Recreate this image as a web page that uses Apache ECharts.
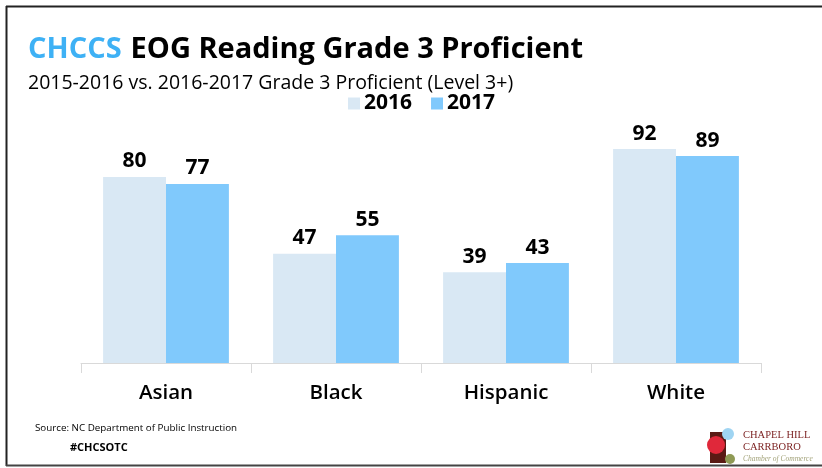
<!DOCTYPE html>
<html><head><meta charset="utf-8">
<script src="https://cdn.jsdelivr.net/npm/echarts@6/dist/echarts.min.js"></script>
<style>html,body{margin:0;padding:0;background:#fff}#c{width:822px;height:468px}</style>
</head><body><div id="c"></div>
<script>
const categories = ['Asian', 'Black', 'Hispanic', 'White'];
const values2016 = [80, 47, 39, 92];
const values2017 = [77, 55, 43, 89];
const seriesNames = ['2016', '2017'];

const FONT = '"Open Sans", "Noto Sans", sans-serif';
const chart = echarts.init(document.getElementById('c'), null, {renderer: 'canvas'});
const labelStyle = {show: true, position: 'top', distance: 5, color: '#000', fontSize: 21, fontWeight: 'bold', fontFamily: FONT};
chart.setOption({
  animation: false,
  backgroundColor: '#fff',
  title: [{
    left: 23, top: 30,
    text: '{a|CHCCS}{s| }{b|EOG Reading Grade 3 Proficient}',
    textStyle: {rich: {
      a: {color: '#3eb1f5', fontSize: 29, fontWeight: 'bold', fontFamily: FONT},
      s: {fontSize: 29, width: 9},
      b: {color: '#000', fontSize: 29, fontWeight: 'bold', fontFamily: FONT}
    }}
  }, {
    left: 23, top: 68,
    text: '2015-2016 vs. 2016-2017 Grade 3 Proficient (Level 3+)',
    textStyle: {color: '#000', fontSize: 19.5, fontWeight: 'normal', fontFamily: FONT}
  }],
  legend: {
    left: 343, top: 88, itemWidth: 12, itemHeight: 12, itemGap: 19,
    icon: 'rect',
    textStyle: {color: '#000', fontSize: 21, fontWeight: 'bold', fontFamily: FONT, padding: [0,0,0,-1]},
    data: seriesNames
  },
  grid: {left: 81, right: 61, top: 130.5, bottom: 105},
  xAxis: {
    type: 'category', data: categories,
    axisLine: {lineStyle: {color: '#d9d9d9', width: 1}},
    axisTick: {show: true, length: 10, lineStyle: {color: '#d9d9d9'}},
    axisLabel: {color: '#000', fontSize: 20.5, fontWeight: 600, fontFamily: FONT, margin: 20}
  },
  yAxis: {type: 'value', min: 0, max: 100, show: false, splitLine: {show: false}},
  series: [{
    name: seriesNames[0], type: 'bar', data: values2016, barGap: '0%', barCategoryGap: '26%',
    itemStyle: {color: '#d9e8f4'}, label: labelStyle
  }, {
    name: seriesNames[1], type: 'bar', data: values2017, barGap: '0%', barCategoryGap: '26%',
    itemStyle: {color: '#80c9fc'}, label: labelStyle
  }],
  graphic: [
    {type: 'line', shape: {x1: 6, y1: 6.5, x2: 822, y2: 6.5}, style: {stroke: '#222', lineWidth: 2}},
    {type: 'line', shape: {x1: 6.5, y1: 6, x2: 6.5, y2: 466}, style: {stroke: '#222', lineWidth: 2}},
    {type: 'line', shape: {x1: 6, y1: 465.5, x2: 822, y2: 465.5}, style: {stroke: '#444', lineWidth: 2}},
    {type: 'text', left: 35, top: 423, style: {text: 'Source: NC Department of Public Instruction', fill: '#000', fontSize: 9.8, fontFamily: FONT}},
    {type: 'text', left: 70, top: 442, style: {text: '#CHCSOTC', fill: '#000', fontSize: 11, fontWeight: 'bold', fontFamily: FONT}},
    {type: 'rect', shape: {x: 710, y: 432, width: 16, height: 31}, style: {fill: '#5a1a14'}},
    {type: 'circle', shape: {cx: 716, cy: 445, r: 9}, style: {fill: '#e0283a'}},
    {type: 'circle', shape: {cx: 728, cy: 434, r: 6}, style: {fill: '#9fd4f2'}},
    {type: 'circle', shape: {cx: 730, cy: 459, r: 5}, style: {fill: '#8f9a55'}},
    {type: 'text', left: 743, top: 430, style: {text: 'CHAPEL HILL', fill: '#7a1e1e', fontSize: 10.5, fontFamily: '"Liberation Serif", serif'}},
    {type: 'text', left: 743, top: 442, style: {text: 'CARRBORO', fill: '#7a1e1e', fontSize: 10.5, fontFamily: '"Liberation Serif", serif'}},
    {type: 'text', left: 743, top: 455, style: {text: 'Chamber of Commerce', fill: '#a3a37a', fontSize: 7.5, fontStyle: 'italic', fontFamily: '"Liberation Serif", serif'}}
  ]
});
</script></body></html>
